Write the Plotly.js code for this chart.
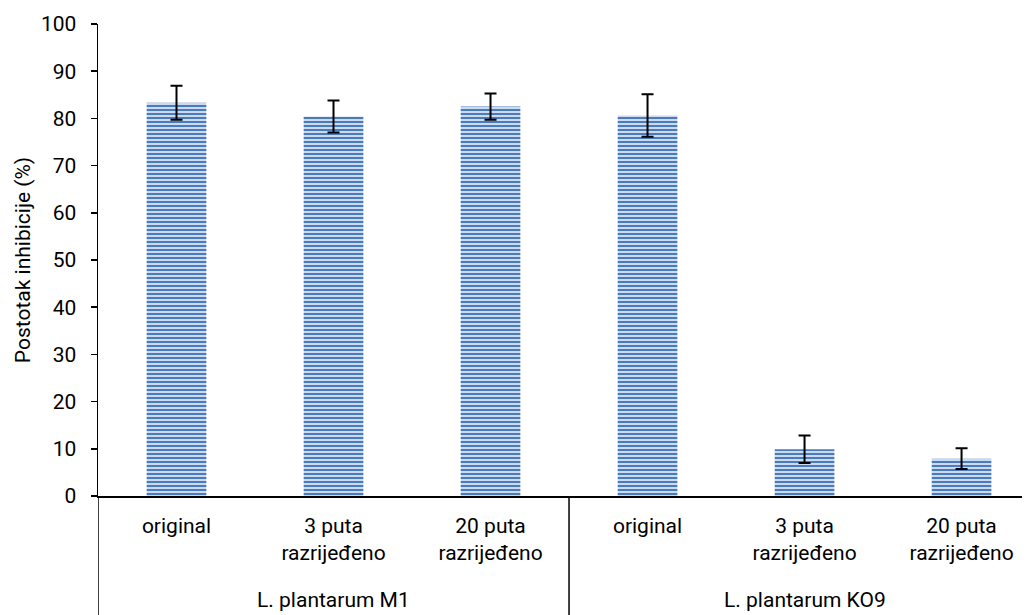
<!DOCTYPE html>
<html>
<head>
<meta charset="utf-8">
<script src="https://cdn.plot.ly/plotly-3.0.1.min.js"></script>
<style>
  html, body { margin: 0; padding: 0; background: #ffffff; }
  #chart { width: 1027px; height: 615px; }
</style>
</head>
<body>
<div id="chart"></div>
<script>
// ---- data ----
const groups = ['L. plantarum M1', 'L. plantarum KO9'];
const subCategories = ['original', '3 puta<br>razrijeđeno', '20 puta<br>razrijeđeno'];
const inhibition = [83.3, 80.4, 82.5, 80.6, 9.9, 7.9];
const inhibitionError = [3.6, 3.4, 2.8, 4.5, 2.9, 2.2];
const yTicks = [0, 10, 20, 30, 40, 50, 60, 70, 80, 90, 100];

// ---- build ----
const labels = [];
groups.forEach(() => subCategories.forEach(s => labels.push(s)));
const xPos = labels.map((_, i) => i);
const perGroup = subCategories.length;

const FONT = 'Roboto, "Noto Sans", sans-serif';
const FS = 21;

const trace = {
  type: 'bar',
  x: xPos,
  y: inhibition,
  marker: {
    color: '#4f81bd',
    line: { width: 0 },
    pattern: {
      shape: '-',
      fgcolor: '#4a7cbc',
      bgcolor: '#cbdaee',
      size: 4,
      solidity: 0.5,
      fillmode: 'replace'
    }
  },
  error_y: {
    type: 'data',
    array: inhibitionError,
    visible: true,
    color: '#000000',
    thickness: 2,
    width: 6
  },
  hoverinfo: 'skip'
};

const shapes = [];
const annotations = [];
// group dividers (at start of each group) and group labels
groups.forEach((g, gi) => {
  const start = gi * perGroup - 0.5;
  shapes.push({
    type: 'line', xref: 'x', yref: 'paper',
    x0: start, x1: start, y0: 0, y1: -0.27,
    line: { color: '#000000', width: 1.5 }
  });
  annotations.push({
    xref: 'x', yref: 'paper',
    x: gi * perGroup + (perGroup - 1) / 2, y: -0.22,
    text: g, showarrow: false,
    xanchor: 'center', yanchor: 'middle',
    font: { family: FONT, size: FS, color: '#000000' }
  });
});

const layout = {
  width: 1027,
  height: 615,
  margin: { l: 98, r: 5, t: 24, b: 119 },
  paper_bgcolor: '#ffffff',
  plot_bgcolor: '#ffffff',
  showlegend: false,
  bargap: 0.62,
  font: { family: FONT, size: FS, color: '#000000' },
  xaxis: {
    range: [-0.5, 5.385],
    tickvals: xPos,
    ticktext: labels,
    ticks: '',
    showgrid: false,
    zeroline: false,
    showline: true,
    linecolor: '#000000',
    linewidth: 1.5,
    tickfont: { family: FONT, size: FS, color: '#000000' },
    ticklabelstandoff: 10,
    fixedrange: true
  },
  yaxis: {
    range: [0, 100],
    tickvals: yTicks,
    ticks: 'outside',
    ticklen: 6,
    tickwidth: 1.5,
    tickcolor: '#000000',
    showgrid: false,
    zeroline: false,
    showline: true,
    linecolor: '#000000',
    linewidth: 1.5,
    tickfont: { family: FONT, size: FS, color: '#000000' },
    ticklabelstandoff: 10,
    title: {
      text: 'Postotak inhibicije (%)',
      font: { family: FONT, size: FS, color: '#000000' },
      standoff: 4
    },
    fixedrange: true
  },
  shapes: shapes,
  annotations: annotations
};

Plotly.newPlot('chart', [trace], layout, { displayModeBar: false, staticPlot: true });
</script>
</body>
</html>
